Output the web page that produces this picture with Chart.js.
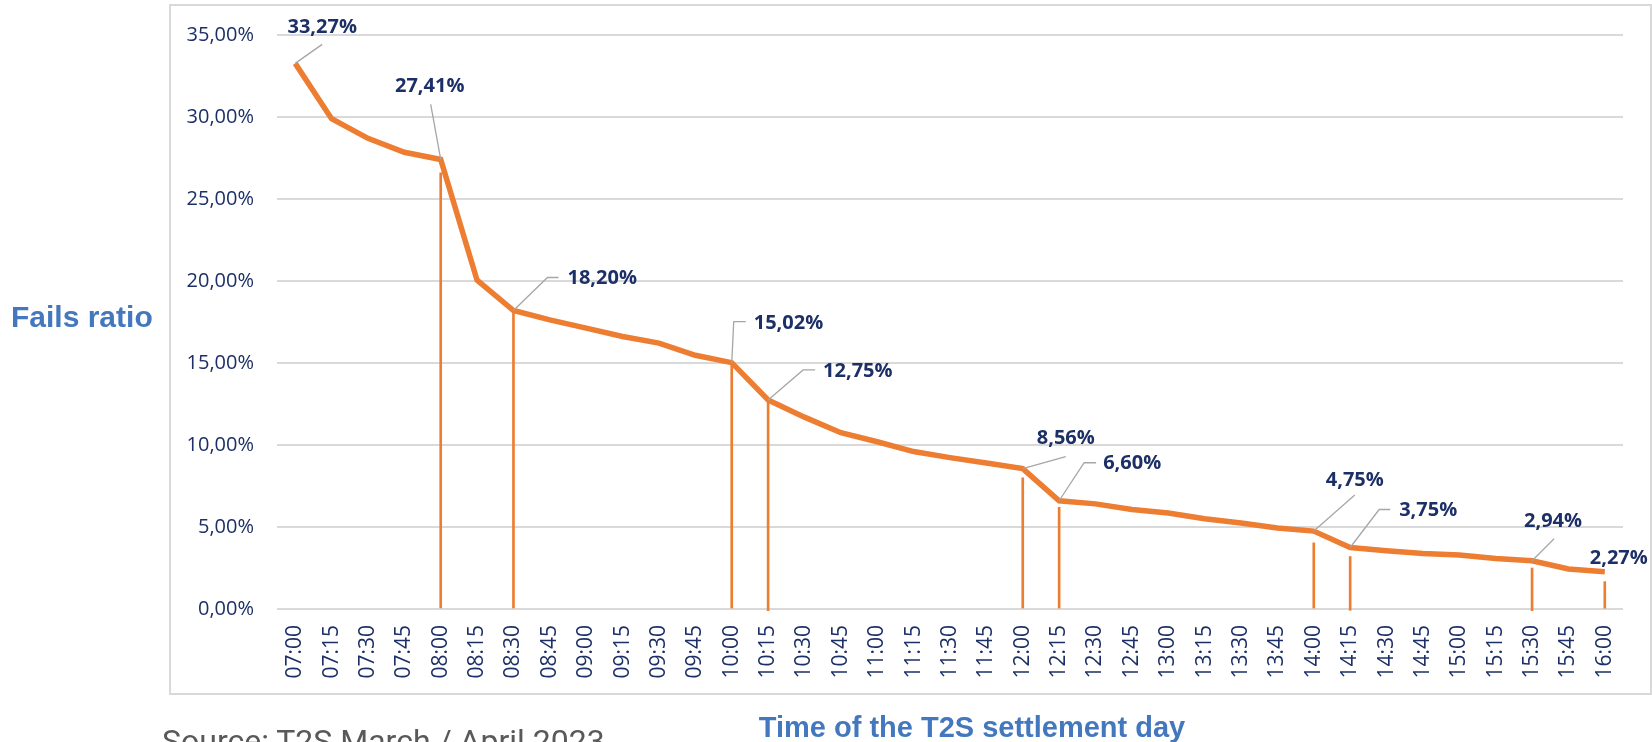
<!DOCTYPE html>
<html>
<head>
<meta charset="utf-8">
<script src="https://cdn.jsdelivr.net/npm/chart.js@4"></script>
<style>
    html, body { margin: 0; padding: 0; background: #fff; }
    #wrap { position: relative; width: 1652px; height: 742px; overflow: hidden; }
    #frame { position: absolute; left: 169px; top: 4px; width: 1479px; height: 687px; border: 2px solid #d9d9d9; }
    #chart { position: absolute; left: 0; top: 0; }
    .txt { position: absolute; line-height: 1; white-space: nowrap; }
    #y-title { left: 11px; top: 300px; font: bold 30px "Liberation Sans", Arial, sans-serif; color: #4378be; }
    #x-title { left: 972px; top: 711px; transform: translateX(-50%); font: bold 29px "Liberation Sans", Arial, sans-serif; color: #4378be; }
    #source { left: 162px; top: 722px; font: 32px Roboto, sans-serif; color: #595959; }
</style>
</head>
<body>
<div id="wrap">
    <div id="frame"></div>
    <canvas id="chart" width="1652" height="742"></canvas>
    <div class="txt" id="y-title">Fails ratio</div>
    <div class="txt" id="x-title">Time of the T2S settlement day</div>
    <div class="txt" id="source">Source: T2S March / April 2023</div>
</div>
<script>
const times = ['07:00', '07:15', '07:30', '07:45', '08:00', '08:15', '08:30', '08:45', '09:00', '09:15',
    '09:30', '09:45', '10:00', '10:15', '10:30', '10:45', '11:00', '11:15', '11:30', '11:45',
    '12:00', '12:15', '12:30', '12:45', '13:00', '13:15', '13:30', '13:45', '14:00', '14:15',
    '14:30', '14:45', '15:00', '15:15', '15:30', '15:45', '16:00'];

const failsRatio = [33.27, 29.9, 28.7, 27.85, 27.41, 20.05, 18.20, 17.63, 17.13, 16.62,
    16.21, 15.47, 15.02, 12.75, 11.7, 10.75, 10.2, 9.6, 9.23, 8.9,
    8.56, 6.60, 6.41, 6.07, 5.85, 5.5, 5.24, 4.94, 4.75, 3.75,
    3.55, 3.39, 3.29, 3.08, 2.94, 2.44, 2.27];

// thin orange drop lines (low, high) under the labelled times
const dropTimes = ['08:00', '08:30', '10:00', '10:15', '12:00', '12:15', '14:00', '14:15', '15:30', '16:00'];
const dropLow = [0, 0, 0, -0.1, 0, 0, 0, -0.08, -0.1, 0.05];
const dropHigh = [26.6, 18.2, 15.02, 12.6, 8.0, 6.2, 4.03, 3.2, 2.5, 1.67];

const labelledTimes = ['07:00', '08:00', '08:30', '10:00', '10:15', '12:00', '12:15', '14:00', '14:15', '15:30', '16:00'];

// where each value label sits relative to its point, and its leader line
const labelPlacement = [
    { dx: 27, dy: -36, align: 'center', leader: [[0, 0], [27, -19]] },
    { dx: -11, dy: -73, align: 'center', leader: [[0, 0], [-10, -55]] },
    { dx: 54, dy: -32, align: 'left', leader: [[0, 0], [34, -33], [45, -33]] },
    { dx: 22, dy: -39, align: 'left', leader: [[0, 0], [2, -41], [14, -41]] },
    { dx: 55, dy: -29, align: 'left', leader: [[0, 0], [35, -30], [47, -30]] },
    { dx: 43, dy: -30, align: 'center', leader: [[0, 0], [43, -12]] },
    { dx: 44, dy: -37, align: 'left', leader: [[0, 0], [25, -38], [37, -38]] },
    { dx: 41, dy: -51, align: 'center', leader: [[0, 0], [41, -36]] },
    { dx: 49, dy: -37, align: 'left', leader: [[0, 0], [29, -38], [40, -38]] },
    { dx: 21, dy: -39, align: 'center', leader: [[0, 0], [22, -22]] },
    { dx: 14, dy: -13, align: 'center', leader: null }
];

const navy = '#1c2f66';
const orange = '#ed7d31';

function pct(v) {
    return v.toFixed(2).replace('.', ',') + '%';
}

const dropData = times.map(t => {
    const k = dropTimes.indexOf(t);
    return k === -1 ? null : [dropLow[k], dropHigh[k]];
});

const valueLabels = {
    id: 'valueLabels',
    afterDatasetsDraw(chart) {
        const ctx = chart.ctx;
        const meta = chart.getDatasetMeta(0);
        ctx.save();
        labelledTimes.forEach((t, n) => {
            const i = times.indexOf(t);
            const pt = meta.data[i];
            const p = labelPlacement[n];
            if (p.leader) {
                ctx.strokeStyle = '#a6a6a6';
                ctx.lineWidth = 1.3;
                ctx.beginPath();
                p.leader.forEach((q, k) => {
                    if (k === 0) ctx.moveTo(pt.x + q[0], pt.y + q[1]);
                    else ctx.lineTo(pt.x + q[0], pt.y + q[1]);
                });
                ctx.stroke();
            }
            ctx.fillStyle = navy;
            ctx.font = 'bold 20px "Open Sans", sans-serif';
            ctx.textAlign = p.align;
            ctx.textBaseline = 'middle';
            ctx.fillText(pct(failsRatio[i]), pt.x + p.dx, pt.y + p.dy);
        });
        ctx.restore();
    }
};

new Chart(document.getElementById('chart'), {
    data: {
        labels: times,
        datasets: [{
            type: 'line',
            label: 'Fails ratio',
            data: failsRatio,
            borderColor: orange,
            borderWidth: 5.5,
            pointRadius: 0,
            tension: 0,
            order: 0,
            clip: false
        }, {
            type: 'bar',
            label: 'drop',
            data: dropData,
            backgroundColor: orange,
            barThickness: 2,
            order: 1,
            clip: false
        }]
    },
    options: {
        responsive: false,
        animation: false,
        layout: { padding: { left: 169, right: 29, top: 31, bottom: 49 } },
        plugins: {
            legend: { display: false },
            tooltip: { enabled: false }
        },
        scales: {
            x: {
                offset: true,
                grid: { display: false, drawTicks: false },
                border: { display: false },
                ticks: {
                    color: navy,
                    font: { family: '"Open Sans", sans-serif', size: 21 },
                    minRotation: 90,
                    maxRotation: 90,
                    autoSkip: false,
                    padding: 16
                },
                afterFit(scale) { scale.height = 84; }
            },
            y: {
                min: 0,
                max: 35,
                grid: { color: '#d9d9d9', lineWidth: 2, drawTicks: false },
                border: { display: false },
                ticks: {
                    stepSize: 5,
                    color: navy,
                    font: { family: '"Open Sans", sans-serif', size: 20 },
                    padding: 23,
                    callback: v => pct(v)
                },
                afterFit(scale) { scale.width = 108; }
            }
        }
    },
    plugins: [valueLabels]
});
</script>
</body>
</html>
